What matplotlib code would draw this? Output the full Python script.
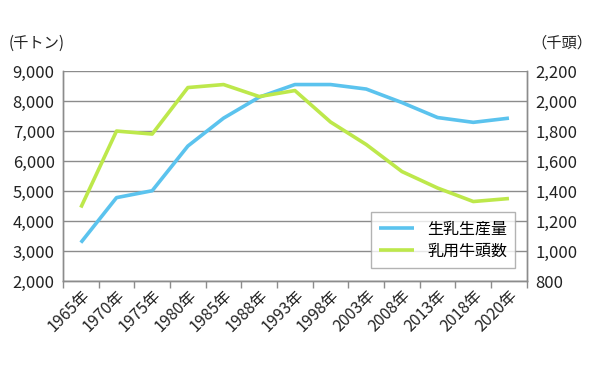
import numpy as np
import matplotlib.pyplot as plt

plt.rcParams['font.family'] = ['Noto Sans CJK JP', 'DejaVu Sans']

# data
years = ['1965年', '1970年', '1975年', '1980年', '1985年', '1988年', '1993年',
         '1998年', '2003年', '2008年', '2013年', '2018年', '2020年']
milk = [3280, 4780, 5010, 6500, 7430, 8130, 8550, 8550, 8400, 7950, 7450, 7290, 7430]
cows = [1290, 1800, 1780, 2090, 2110, 2030, 2070, 1860, 1710, 1530, 1420, 1330, 1350]

blue = '#5bc3ee'
green = '#bde84b'
grid_c = '#8c8c8c'

fig = plt.figure(figsize=(6, 3.8), dpi=100)
ax = fig.add_axes([0.105, 0.2605, 0.773, 0.5525])
ax2 = ax.twinx()

x = np.arange(len(years))
l1, = ax.plot(x, milk, color=blue, lw=2.6, solid_capstyle='butt', label='生乳生産量', zorder=3)
l2, = ax2.plot(x, cows, color=green, lw=2.6, solid_capstyle='butt', label='乳用牛頭数', zorder=3)

ax.set_xlim(-0.5, len(years) - 0.5)
ax.set_ylim(2000, 9000)
ax.set_yticks(range(2000, 9001, 1000))
ax.set_yticklabels([f'{v:,}' for v in range(2000, 9001, 1000)])
ax2.set_ylim(800, 2200)
ax2.set_yticks(range(800, 2201, 200))
ax2.set_yticklabels([f'{v:,}' for v in range(800, 2201, 200)])

ax.grid(axis='y', color=grid_c, lw=1)
ax.set_axisbelow(True)

for a in (ax, ax2):
    for s in a.spines.values():
        s.set_color(grid_c)
        s.set_linewidth(1)
    a.spines['top'].set_visible(False)
    a.tick_params(axis='y', length=0, labelsize=12, colors='#222222', pad=6)

# category labels at centres, tick marks on boundaries
ax.set_xticks(x)
ax.set_xticklabels(years, rotation=45, ha='right', rotation_mode='anchor', fontsize=11.5, color='#222222')
ax.tick_params(axis='x', which='major', length=0, pad=4)
ax.set_xticks(np.arange(-0.5, len(years), 1), minor=True)
ax.tick_params(axis='x', which='minor', length=5, color=grid_c, width=1)

fig.text(0.015, 0.875, '(千トン)', fontsize=11, color='#222222')
fig.text(0.885, 0.875, '（千頭）', fontsize=11, color='#222222')

leg = ax2.legend(handles=[l1, l2], loc='lower right', bbox_to_anchor=(0.975, 0.062),
                 borderaxespad=0, fontsize=11.5, frameon=True, fancybox=False,
                 handlelength=2.2, borderpad=0.5, labelspacing=0.35)
leg.get_frame().set_edgecolor('#a0a0a0')
leg.get_frame().set_linewidth(1)

fig.savefig('out.png', dpi=100)
